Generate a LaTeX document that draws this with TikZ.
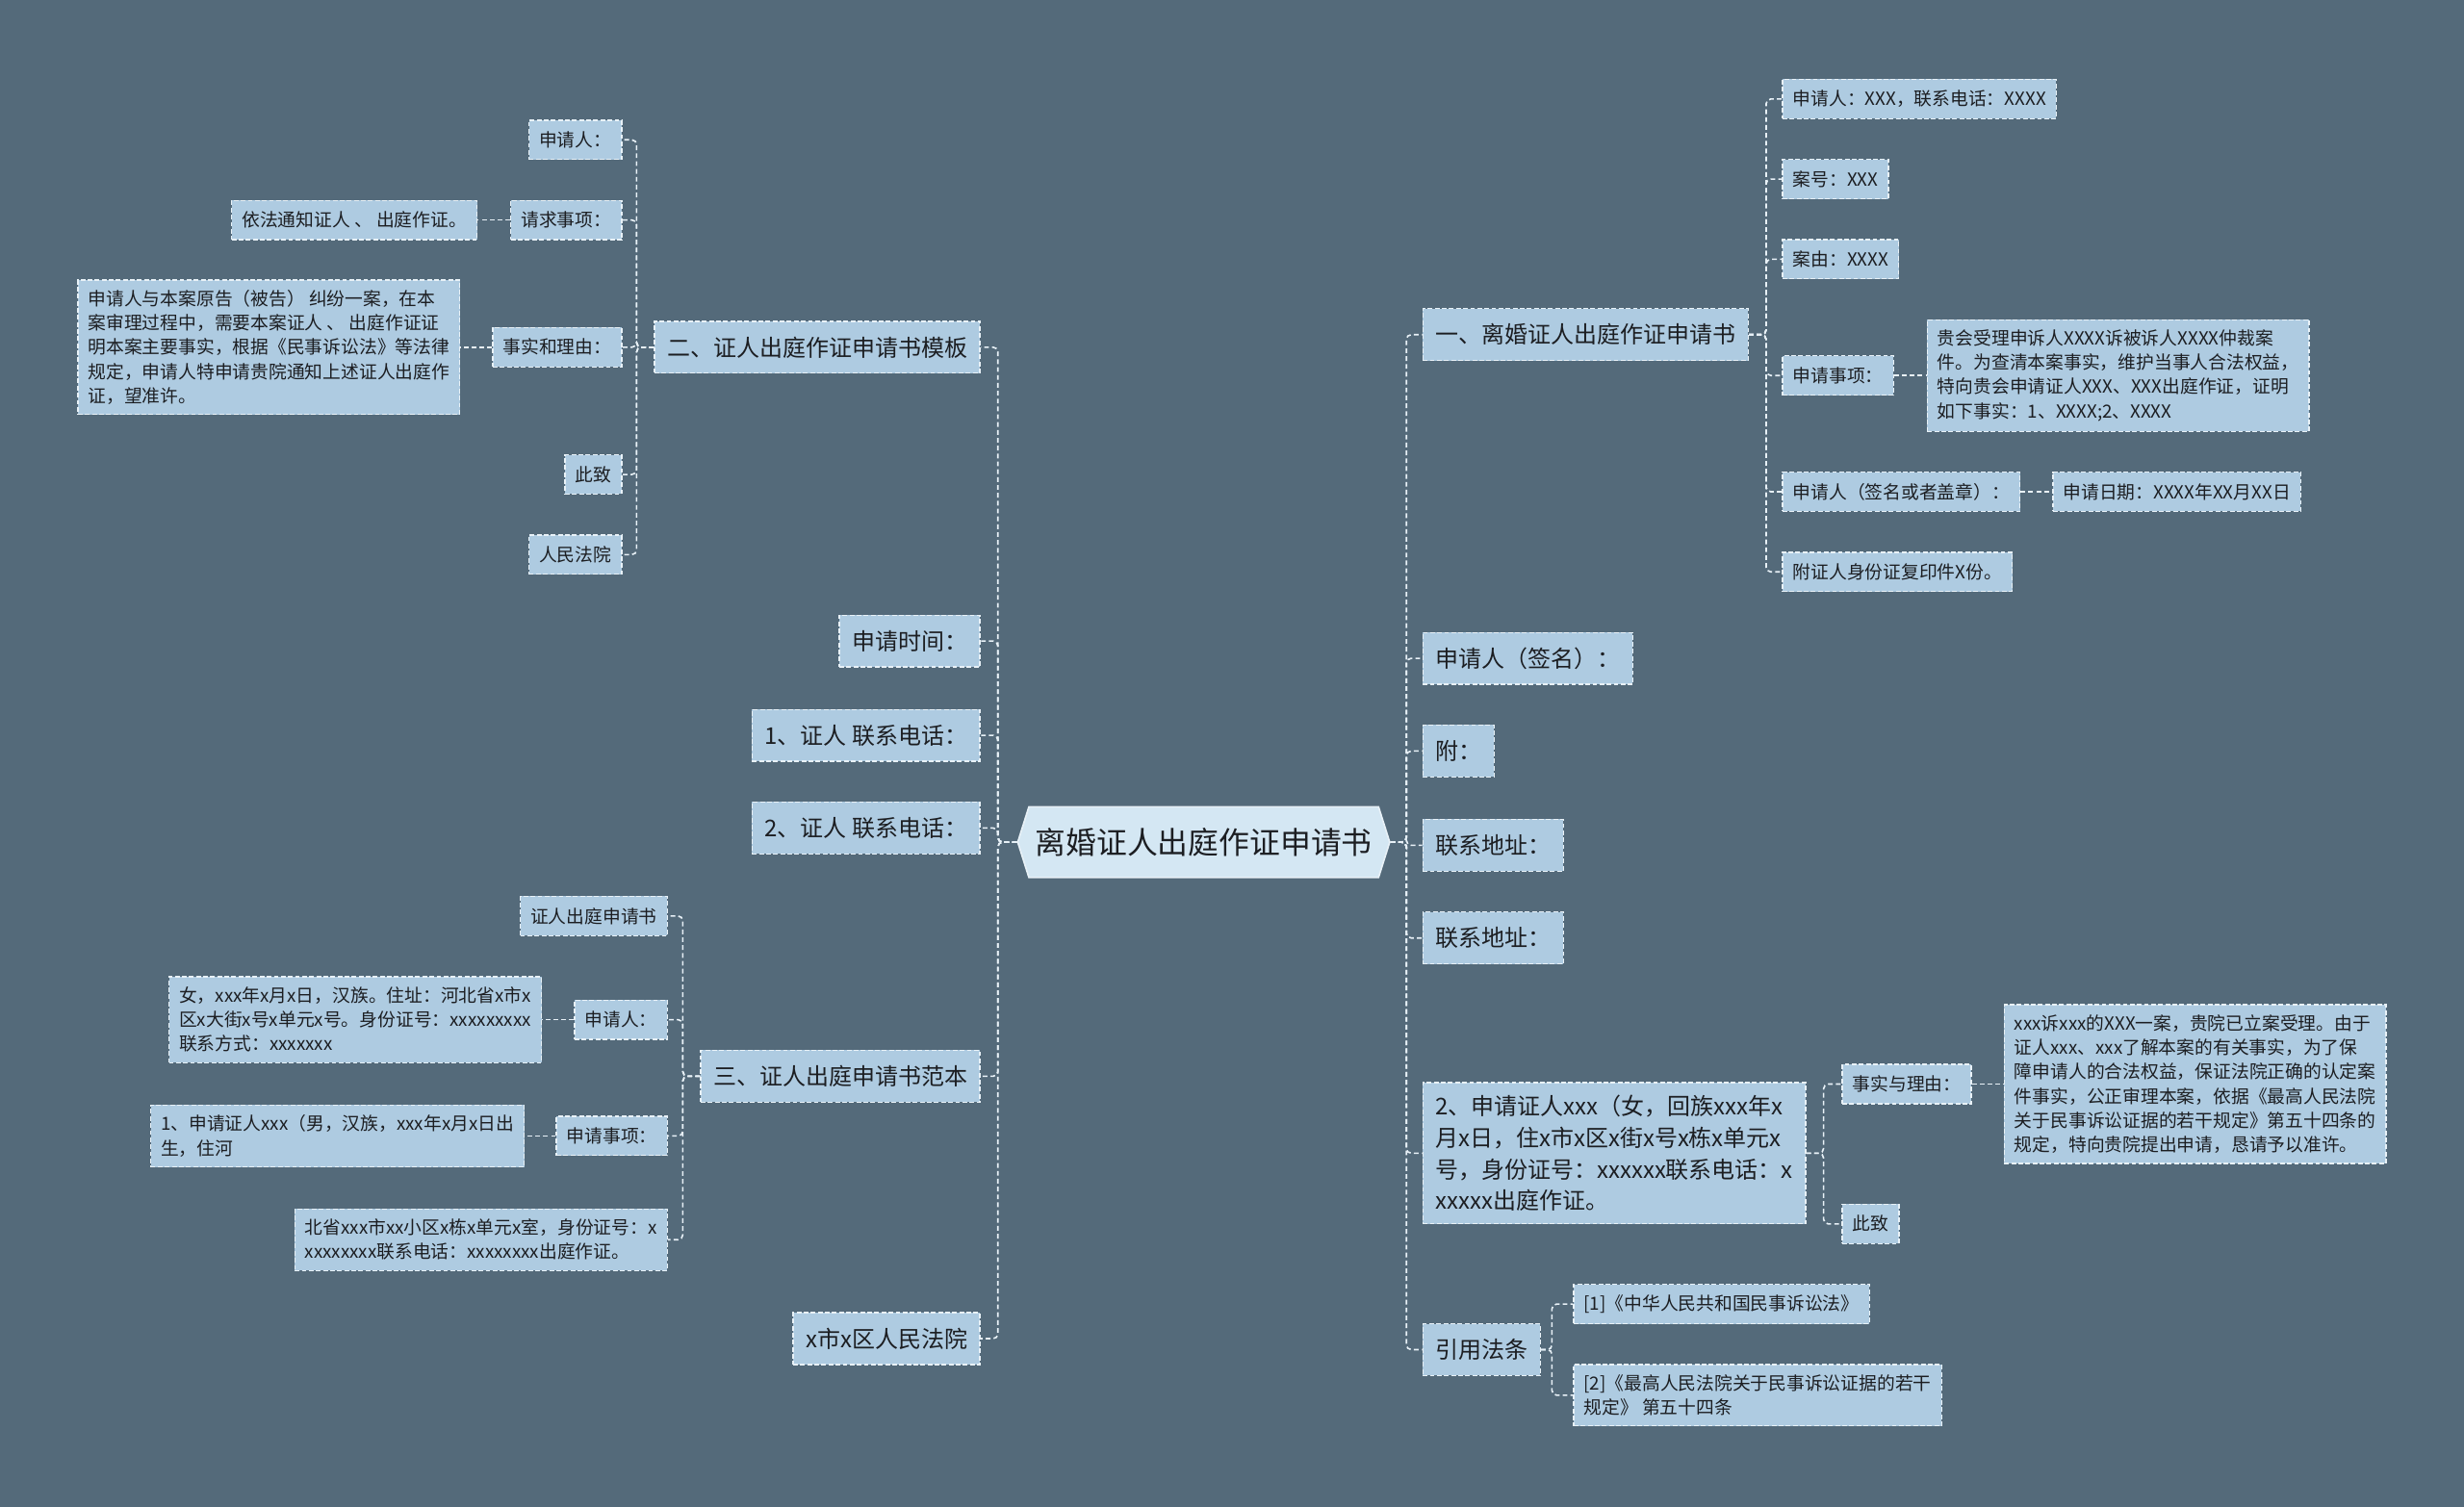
\documentclass[tikz,border=0pt]{standalone}
\usepackage{fontspec}
\setmainfont{Noto Sans CJK SC}
\usetikzlibrary{shapes.symbols}
\definecolor{bgcol}{RGB}{84,106,122}
\definecolor{nodefill}{RGB}{174,203,225}
\definecolor{hubfill}{RGB}{212,231,243}
\definecolor{edgecol}{RGB}{232,241,247}
\definecolor{inkcol}{RGB}{28,30,34}
\newcommand\fbig{\fontsize{19.5}{24}\selectfont}
\newcommand\fmid{\fontsize{14.7}{20}\selectfont}
\newcommand\fsmall{\fontsize{11.5}{15.4}\selectfont}
\tikzset{
	box/.style={draw=edgecol, fill=nodefill, dashed, dash pattern=on 3pt off 1.5pt, line width=0.8pt, text=inkcol, align=left},
	lvone/.style={box, font=\fmid, inner xsep=8pt, inner ysep=8pt, minimum height=33pt},
	lvtwo/.style={box, font=\fsmall, inner xsep=6.5pt, inner ysep=6.5pt, minimum height=25pt},
	hub/.style={shape=signal, signal to=west and east, signal pointer angle=145, fill=hubfill, draw=edgecol, line width=1pt, text=inkcol, font=\fbig, inner xsep=4pt, minimum height=45pt},
	link/.style={draw=edgecol, dashed, dash pattern=on 3pt off 2pt, line width=1pt, rounded corners=3pt}
}
\begin{document}
\begin{tikzpicture}[x=1pt, y=-1pt]
	\fill[bgcol] (0,0) rectangle (1568,959);
	\useasboundingbox (0,0) rectangle (1568,959);

	\node[hub] (hub) at (766,536) {离婚证人出庭作证申请书};
	\coordinate (ltrunk) at (635,536);
	\coordinate (rtrunk) at (895,536);

	\node[lvone, anchor=east] (tmpl) at (624,221) {二、证人出庭作证申请书模板};
	\node[lvone, anchor=east] (time) at (624,408) {申请时间：};
	\node[lvone, anchor=east] (wone) at (624,468) {1、证人 联系电话：};
	\node[lvone, anchor=east] (wtwo) at (624,527) {2、证人 联系电话：};
	\node[lvone, anchor=east] (sample) at (624,685) {三、证人出庭申请书范本};
	\node[lvone, anchor=east] (court) at (624,852) {x市x区人民法院};

	\node[lvtwo, anchor=east] (tapp) at (396,89) {申请人：};
	\node[lvtwo, anchor=east] (treq) at (396,140) {请求事项：};
	\node[lvtwo, anchor=east] (tfact) at (396,221) {事实和理由：};
	\node[lvtwo, anchor=east] (tsal) at (396,302) {此致};
	\node[lvtwo, anchor=east] (tcourt) at (396,353) {人民法院};
	\node[lvtwo, anchor=east] (treqtxt) at (304,140) {依法通知证人 、 出庭作证。};
	\node[lvtwo, anchor=east] (tfacttxt) at (293,221) {申请人与本案原告（被告） 纠纷一案，在本\\案审理过程中，需要本案证人 、 出庭作证证\\明本案主要事实，根据《民事诉讼法》等法律\\规定，申请人特申请贵院通知上述证人出庭作\\证，望准许。};

	\node[lvtwo, anchor=east] (stitle) at (425,583) {证人出庭申请书};
	\node[lvtwo, anchor=east] (sapp) at (425,649) {申请人：};
	\node[lvtwo, anchor=east] (sreq) at (425,723) {申请事项：};
	\node[lvtwo, anchor=east] (saddr) at (425,789) {北省xxx市xx小区x栋x单元x室，身份证号：x\\xxxxxxxx联系电话：xxxxxxxx出庭作证。};
	\node[lvtwo, anchor=east] (sapptxt) at (345,649) {女，xxx年x月x日，汉族。住址：河北省x市x\\区x大街x号x单元x号。身份证号：xxxxxxxxx\\联系方式：xxxxxxx};
	\node[lvtwo, anchor=east] (sreqtxt) at (334,723) {1、申请证人xxx（男，汉族，xxx年x月x日出\\生，住河};

	\node[lvone, anchor=west] (form) at (905,213) {一、离婚证人出庭作证申请书};
	\node[lvone, anchor=west] (sign) at (905,419) {申请人（签名）：};
	\node[lvone, anchor=west] (annex) at (905,478) {附：};
	\node[lvone, anchor=west] (addra) at (905,538) {联系地址：};
	\node[lvone, anchor=west] (addrb) at (905,597) {联系地址：};
	\node[lvone, anchor=west] (wsec) at (905,734) {2、申请证人xxx（女，回族xxx年x\\月x日，住x市x区x街x号x栋x单元x\\号，身份证号：xxxxxx联系电话：x\\xxxxx出庭作证。};
	\node[lvone, anchor=west] (laws) at (905,859) {引用法条};

	\node[lvtwo, anchor=west] (fapp) at (1134,63) {申请人：XXX，联系电话：XXXX};
	\node[lvtwo, anchor=west] (fno) at (1134,114) {案号：XXX};
	\node[lvtwo, anchor=west] (fcause) at (1134,165) {案由：XXXX};
	\node[lvtwo, anchor=west] (freq) at (1134,239) {申请事项：};
	\node[lvtwo, anchor=west] (fsign) at (1134,313) {申请人（签名或者盖章）：};
	\node[lvtwo, anchor=west] (fcopy) at (1134,364) {附证人身份证复印件X份。};
	\node[lvtwo, anchor=west] (freqtxt) at (1226,239) {贵会受理申诉人XXXX诉被诉人XXXX仲裁案\\件。为查清本案事实，维护当事人合法权益，\\特向贵会申请证人XXX、XXX出庭作证，证明\\如下事实：1、XXXX;2、XXXX};
	\node[lvtwo, anchor=west] (fdate) at (1306,313) {申请日期：XXXX年XX月XX日};

	\node[lvtwo, anchor=west] (wfact) at (1172,690) {事实与理由：};
	\node[lvtwo, anchor=west] (wsal) at (1172,779) {此致};
	\node[lvtwo, anchor=west] (wfacttxt) at (1275,690) {xxx诉xxx的XXX一案，贵院已立案受理。由于\\证人xxx、xxx了解本案的有关事实，为了保\\障申请人的合法权益，保证法院正确的认定案\\件事实，公正审理本案，依据《最高人民法院\\关于民事诉讼证据的若干规定》第五十四条的\\规定，特向贵院提出申请，恳请予以准许。};

	\node[lvtwo, anchor=west] (lawa) at (1001,830) {[1]《中华人民共和国民事诉讼法》};
	\node[lvtwo, anchor=west] (lawb) at (1001,888) {[2]《最高人民法院关于民事诉讼证据的若干\\规定》 第五十四条};

	\foreach \n in {tmpl,time,wone,wtwo,sample,court}
		\draw[link] (hub.west) -- (ltrunk) |- (\n.east);
	\foreach \n in {form,sign,annex,addra,addrb,wsec,laws}
		\draw[link] (hub.east) -- (rtrunk) |- (\n.west);
	\foreach \n in {tapp,treq,tfact,tsal,tcourt}
		\draw[link] (tmpl.west) -- ++(-11,0) |- (\n.east);
	\draw[link] (treq.west) -- (treqtxt.east);
	\draw[link] (tfact.west) -- (tfacttxt.east);
	\foreach \n in {stitle,sapp,sreq,saddr}
		\draw[link] (sample.west) -- ++(-11,0) |- (\n.east);
	\draw[link] (sapp.west) -- (sapptxt.east);
	\draw[link] (sreq.west) -- (sreqtxt.east);
	\foreach \n in {fapp,fno,fcause,freq,fsign,fcopy}
		\draw[link] (form.east) -- ++(11,0) |- (\n.west);
	\draw[link] (freq.east) -- (freqtxt.west);
	\draw[link] (fsign.east) -- (fdate.west);
	\foreach \n in {wfact,wsal}
		\draw[link] (wsec.east) -- ++(11,0) |- (\n.west);
	\draw[link] (wfact.east) -- (wfacttxt.west);
	\foreach \n in {lawa,lawb}
		\draw[link] (laws.east) -- ++(7,0) |- (\n.west);

\end{tikzpicture}
\end{document}
